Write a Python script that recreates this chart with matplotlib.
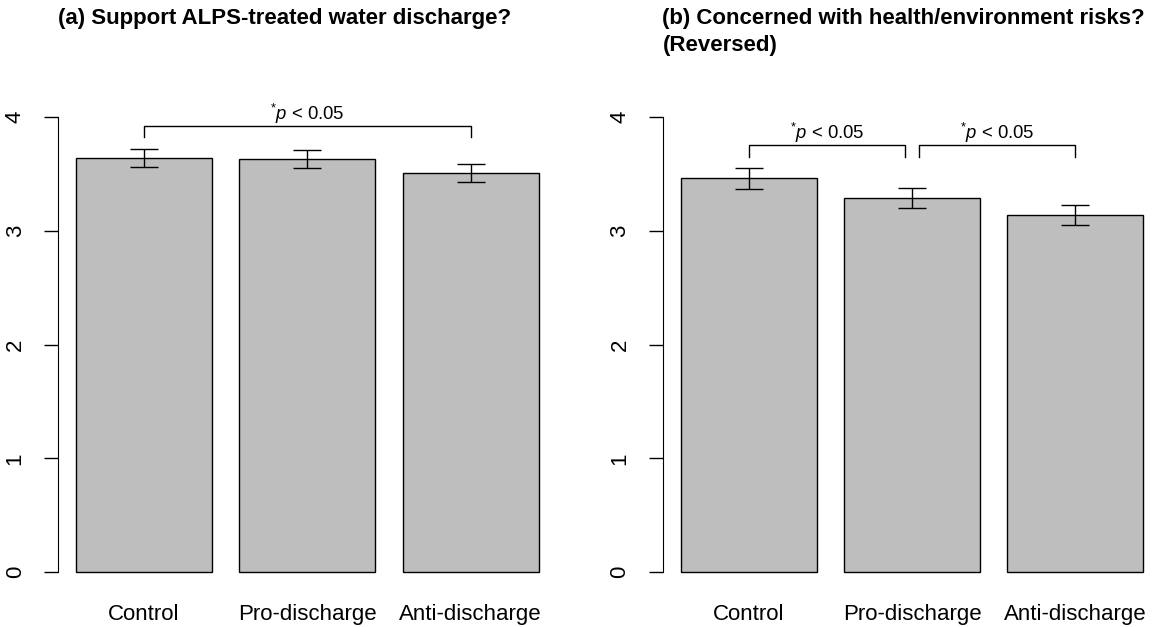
import matplotlib
matplotlib.use("Agg")
import matplotlib.pyplot as plt

plt.rcParams['font.family'] = ['Liberation Sans', 'DejaVu Sans']
plt.rcParams['mathtext.fontset'] = 'custom'
plt.rcParams['mathtext.rm'] = 'Liberation Sans'
plt.rcParams['mathtext.it'] = 'Liberation Sans:italic'

groups = ["Control", "Pro-discharge", "Anti-discharge"]

support_mean = [3.64, 3.63, 3.51]
support_err = [0.08, 0.08, 0.08]

concern_mean = [3.46, 3.29, 3.14]
concern_err = [0.09, 0.09, 0.09]

# bracket pairs (bar index from, bar index to) for each panel
support_pairs = [(0, 2)]
concern_pairs = [(0, 1), (1, 2)]

fig = plt.figure(figsize=(11.56, 6.27), dpi=100)

W, H = 1156, 627
bar_pos = [0.7, 1.9, 3.1]   # R barplot centres, width 1, space 0.2
xlim = (0.064, 3.736)
ylim = (-0.16, 4.16)
AX_W = 499.4   # px, plot region width
AX_B = 590.5   # px from top, plot region bottom
AX_H = 491.7


def bracket(ax, x0, x1, top, leg, label):
    ax.plot([x0, x0, x1, x1], [leg, top, top, leg], color="black", lw=1,
            clip_on=False)
    ax.text((x0 + x1) / 2, top + 0.0, label, ha="center", va="bottom", fontsize=13.3)


def panel(left_px, means, errs, pairs, top, leg, shrink):
    ax = fig.add_axes([left_px / W, 1 - AX_B / H, AX_W / W, AX_H / H])
    ax.bar(bar_pos, means, width=1.0, color="#bebebe", edgecolor="black", linewidth=1)
    ax.errorbar(bar_pos, means, yerr=errs, fmt="none", ecolor="black",
                elinewidth=1, capsize=10, capthick=1)
    for a, b in pairs:
        x0 = bar_pos[a] + (shrink if a == 1 else 0)
        x1 = bar_pos[b] - (shrink if b == 1 else 0)
        bracket(ax, x0, x1, top, leg, r"$^{*}\mathit{p}$ < 0.05")
    ax.set_xlim(*xlim)
    ax.set_ylim(*ylim)
    for s in ["top", "right", "bottom"]:
        ax.spines[s].set_visible(False)
    ax.spines["left"].set_bounds(0, 4)
    ax.set_yticks([0, 1, 2, 3, 4])
    ax.set_yticklabels(["0", "1", "2", "3", "4"], rotation=90, va="center", fontsize=16)
    ax.tick_params(axis="y", length=10, width=1, pad=13)
    ax.set_xticks(bar_pos)
    ax.set_xticklabels(groups, fontsize=16)
    ax.tick_params(axis="x", length=0, pad=9.5)
    return ax


panel(57.6, support_mean, support_err, support_pairs, 3.92, 3.82, 0.0)
panel(662.5, concern_mean, concern_err, concern_pairs, 3.75, 3.65, 0.05)

fig.text(57.6 / W, 1 - 8 / H, "(a) Support ALPS-treated water discharge?",
         fontsize=16, fontweight="bold", ha="left", va="top")
fig.text(662.5 / W, 1 - 8 / H, "(b) Concerned with health/environment risks?\n(Reversed)",
         fontsize=16, fontweight="bold", ha="left", va="top", linespacing=1.4)

fig.savefig("out.png", dpi=100)
